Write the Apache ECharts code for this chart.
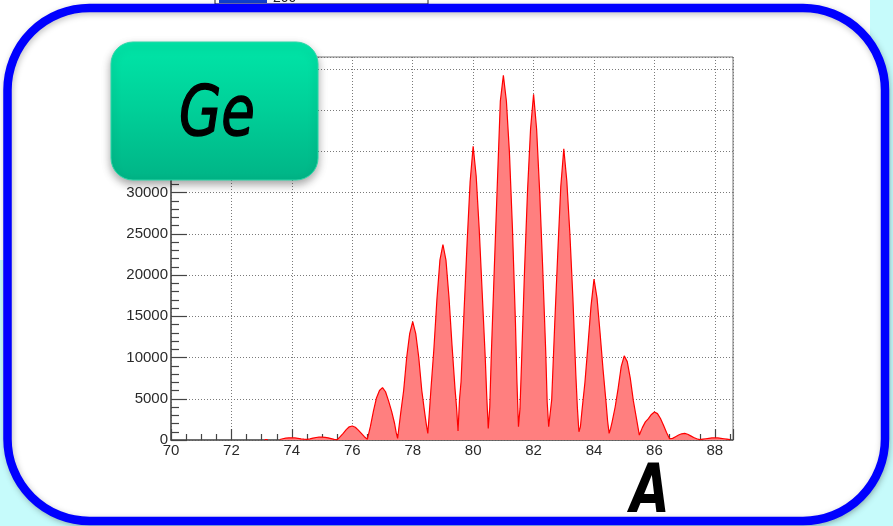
<!DOCTYPE html>
<html>
<head>
<meta charset="utf-8">
<script src="https://cdn.jsdelivr.net/npm/echarts@6/dist/echarts.min.js"></script>
<style>
html,body{margin:0;padding:0;background:#c6fbfb;}
#chart{width:893px;height:526px;}
</style>
</head>
<body>
<div id="chart"></div>
<script>
// Histogram of mass number A for Ge, bins of width 0.1 starting at 70.0
const binStart = 70.0;
const binWidth = 0.1;
const counts = [
  // 70.0 - 70.9
  null,null,null,null,null,null,null,null,null,null,
  // 71
  null,null,null,null,null,null,null,null,null,null,
  // 72
  null,null,null,null,null,null,null,null,null,null,
  // 73
  null,60,60,null,null,null,60,150,220,260,
  // 74
  270,250,200,140,100,80,130,220,300,340,
  // 75
  350,320,260,170,80,30,400,800,1250,1600,
  // 76
  1700,1550,1200,800,400,100,1650,3500,5100,6000,
  // 77
  6350,5850,4750,3500,2000,200,3200,6000,10000,12900,
  // 78
  14350,12900,10000,6000,3200,800,6000,11000,17000,21800,
  // 79
  23700,21800,17300,11500,6200,1100,7100,15700,23900,31300,
  // 80
  35600,32000,25600,17800,10000,1400,10200,20800,31000,41100,
  // 81
  44200,41100,34900,25700,14200,1600,9200,20500,30200,37700,
  // 82
  41900,37700,30200,21000,10900,1600,4900,14100,22600,30700,
  // 83
  35300,31400,25100,17300,7800,1000,3500,7000,11500,16200,
  // 84
  19500,17200,13000,8500,4500,800,2200,4000,6300,8900,
  // 85
  10200,9500,7500,4800,2700,600,1500,2200,2600,3100,
  // 86
  3400,3200,2600,1800,900,150,200,400,600,750,
  // 87
  800,700,500,300,150,50,100,150,200,250,
  // 88
  250,250,200,150,100,50
];
// extra readings right beside the valleys between neighbouring peaks
const valleyEdgeX      = [77.45, 77.55, 78.45, 78.55, 79.45, 79.55, 80.45, 80.55, 81.45, 81.55, 82.45, 82.55, 83.45, 83.55, 84.45, 84.55];
const valleyEdgeCounts = [  950,  1700,  1900,  3300,  4000,  5000,  5300,  4000,  7000,  3800,  4600,  1800,  3900,  1600,  2300,  1400];

const xMin = 70, xMax = 88.6, xStep = 2;
const yMin = 0, yMax = 46430, yStep = 5000;
const badgeText = 'Ge';
const axisTitle = 'A';

const seriesData = counts.map((v, i) => [Number((binStart + i * binWidth).toFixed(2)), v])
  .concat(valleyEdgeX.map((x, i) => [x, valleyEdgeCounts[i]]))
  .sort((a, b) => a[0] - b[0]);

const chart = echarts.init(document.getElementById('chart'), null, {renderer: 'canvas'});
const labelFont = {color: '#2a2a2a', fontFamily: 'Liberation Sans, Arial, sans-serif', fontSize: 15};
const gridLine = {show: true, lineStyle: {color: '#7a7a7a', width: 1, type: [1, 2]}};

chart.setOption({
  animation: false,
  backgroundColor: 'transparent',
  grid: {left: 171, right: 160, top: 57, bottom: 86, show: true, borderColor: '#777', borderWidth: 1, containLabel: false, outerBoundsMode: 'none'},
  xAxis: {
    type: 'value', min: xMin, max: xMax, interval: xStep,
    axisLine: {show: true, onZero: false, lineStyle: {color: '#555', width: 1.5}},
    axisTick: {show: true, inside: true, length: 11, lineStyle: {color: '#444', width: 1.2}},
    minorTick: {show: true, splitNumber: 4, length: 6, lineStyle: {color: '#444', width: 1.2}},
    axisLabel: Object.assign({margin: 3, showMaxLabel: false, formatter: v => String(v)}, labelFont),
    splitLine: gridLine
  },
  yAxis: {
    type: 'value', min: yMin, max: yMax, interval: yStep,
    axisLine: {show: true, onZero: false, lineStyle: {color: '#555', width: 1.5}},
    axisTick: {show: true, inside: true, length: 16, lineStyle: {color: '#444', width: 1.2}},
    minorTick: {show: true, splitNumber: 5, length: 8, lineStyle: {color: '#444', width: 1.2}},
    axisLabel: Object.assign({margin: 3, showMaxLabel: false, formatter: v => String(v)}, labelFont),
    splitLine: gridLine
  },
  series: [{
    type: 'line',
    data: seriesData,
    showSymbol: false,
    symbol: 'none',
    connectNulls: false,
    lineStyle: {color: '#ff0000', width: 1.2},
    areaStyle: {color: '#ff7f7f', opacity: 1, origin: 'start'},
    z: 2
  }],
  graphic: [
    {type: 'rect', z: -5, shape: {x: 0, y: 0, width: 870, height: 260}, style: {fill: '#ffffff'}},
    {type: 'rect', z: -5, shape: {x: 215, y: -10, width: 213, height: 14}, style: {fill: '#ffffff', stroke: '#222', lineWidth: 1}},
    {type: 'rect', z: -5, shape: {x: 219, y: -6, width: 48, height: 9}, style: {fill: '#1040d0'}},
    {type: 'text', z: -5, x: 273, y: -9, style: {text: '200', fontSize: 14, fill: '#222', fontFamily: 'Liberation Sans'}},
    {type: 'rect', z: -4, shape: {x: 7.5, y: 8, width: 877.5, height: 513, r: 82},
      style: {fill: '#ffffff', stroke: '#0000ff', lineWidth: 8.5, shadowBlur: 6, shadowColor: 'rgba(0,0,0,0.25)', shadowOffsetX: 1, shadowOffsetY: 2}},
    {type: 'rect', z: 100, shape: {x: 111, y: 42, width: 207, height: 138, r: 22},
      style: {
        fill: new echarts.graphic.LinearGradient(0, 0, 0, 1, [
          {offset: 0, color: '#00e6a8'}, {offset: 0.5, color: '#00cf98'}, {offset: 1, color: '#00b486'}
        ]),
        stroke: '#2ad8a8', lineWidth: 1,
        shadowBlur: 8, shadowColor: 'rgba(0,0,0,0.35)', shadowOffsetY: 4
      }},
    {type: 'text', z: 101, x: 217, y: 117, scaleX: 0.78, scaleY: 1,
      style: {text: badgeText, x: 0, y: 0, align: 'center', verticalAlign: 'middle', fontSize: 70, fontStyle: 'italic', fontFamily: 'DejaVu Sans', fill: '#000', stroke: '#000', lineWidth: 1.5}},
    {type: 'text', z: 101, x: 650, y: 494, scaleX: 0.75, scaleY: 1,
      style: {text: axisTitle, x: 0, y: 0, align: 'center', verticalAlign: 'middle', fontSize: 68, fontWeight: 'bold', fontStyle: 'italic', fontFamily: 'DejaVu Sans', fill: '#000'}}
  ]
});
</script>
</body>
</html>
